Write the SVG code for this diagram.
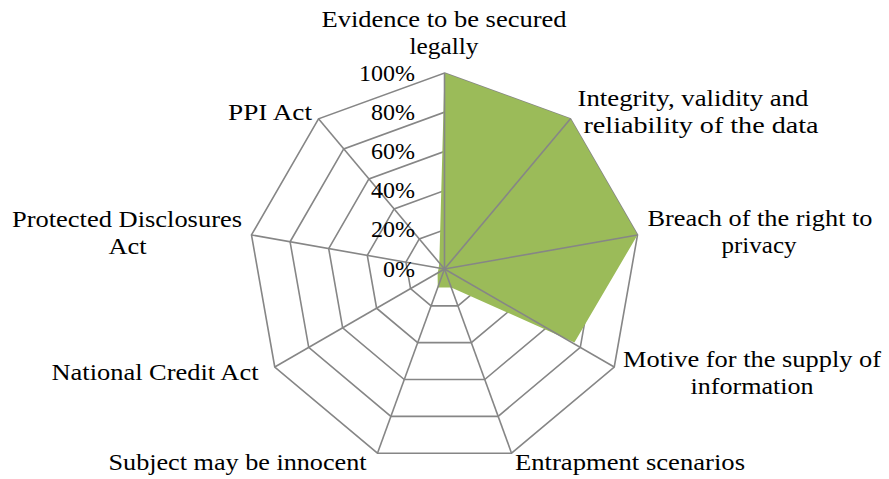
<svg xmlns="http://www.w3.org/2000/svg" width="889" height="479" viewBox="0 0 889 479">
<style>
.ring{fill:none;stroke:#868686;stroke-width:1.6;stroke-linejoin:miter}
.axis{stroke:#868686;stroke-width:1.6}
.cat{font-family:"Liberation Serif","Times New Roman",serif;font-size:24px;fill:#000;text-anchor:middle}
.pct{font-family:"Liberation Serif","Times New Roman",serif;font-size:24px;fill:#000;text-anchor:end}
</style>
<rect width="889" height="479" fill="#fff"/>
<g id="grid">
<polygon class="ring" points="444.5,229.8 469.7,238.97 483.1,262.19 478.45,288.6 457.91,305.84 431.09,305.84 410.55,288.6 405.9,262.19 419.3,238.97"/>
<polygon class="ring" points="444.5,190.6 494.89,208.94 521.71,255.39 512.4,308.2 471.31,342.67 417.69,342.67 376.6,308.2 367.29,255.39 394.11,208.94"/>
<polygon class="ring" points="444.5,151.4 520.09,178.91 560.31,248.58 546.34,327.8 484.72,379.51 404.28,379.51 342.66,327.8 328.69,248.58 368.91,178.91"/>
<polygon class="ring" points="444.5,112.2 545.29,148.88 598.92,241.77 580.29,347.4 498.13,416.34 390.87,416.34 308.71,347.4 290.08,241.77 343.71,148.88"/>
<polygon class="ring" points="444.5,73 570.49,118.86 637.52,234.96 614.24,367 511.54,453.18 377.46,453.18 274.76,367 251.48,234.96 318.51,118.86"/>
</g>
<g id="series">
<polygon fill="#9BBB59" points="444.5,73 570.49,118.86 637.52,234.96 574.4,342.5 451.2,287.4 437.8,287.4 437.6,272.9 438.7,268 439.3,262.9"/>
</g>
<g id="axes">
<line class="axis" x1="444.5" y1="269" x2="444.5" y2="73"/>
<line class="axis" x1="444.5" y1="269" x2="570.49" y2="118.86"/>
<line class="axis" x1="444.5" y1="269" x2="637.52" y2="234.96"/>
<line class="axis" x1="444.5" y1="269" x2="614.24" y2="367"/>
<line class="axis" x1="444.5" y1="269" x2="511.54" y2="453.18"/>
<line class="axis" x1="444.5" y1="269" x2="377.46" y2="453.18"/>
<line class="axis" x1="444.5" y1="269" x2="274.76" y2="367"/>
<line class="axis" x1="444.5" y1="269" x2="251.48" y2="234.96"/>
<line class="axis" x1="444.5" y1="269" x2="318.51" y2="118.86"/>
</g>
<g id="value-labels">
<text class="pct" x="415" y="80.5">100%</text>
<text class="pct" x="415" y="119.7">80%</text>
<text class="pct" x="415" y="158.9">60%</text>
<text class="pct" x="415" y="198.1">40%</text>
<text class="pct" x="415" y="237.3">20%</text>
<text class="pct" x="415" y="276.5">0%</text>
</g>
<g id="category-labels">
<text class="cat" x="444" y="27" textLength="245" lengthAdjust="spacingAndGlyphs">Evidence to be secured</text>
<text class="cat" x="444" y="54" textLength="69" lengthAdjust="spacingAndGlyphs">legally</text>
<text class="cat" x="693" y="106" textLength="231" lengthAdjust="spacingAndGlyphs">Integrity, validity and</text>
<text class="cat" x="701" y="133" textLength="235" lengthAdjust="spacingAndGlyphs">reliability of the data</text>
<text class="cat" x="760" y="226" textLength="225" lengthAdjust="spacingAndGlyphs">Breach of the right to</text>
<text class="cat" x="759" y="253" textLength="75" lengthAdjust="spacingAndGlyphs">privacy</text>
<text class="cat" x="752" y="367" textLength="258" lengthAdjust="spacingAndGlyphs">Motive for the supply of</text>
<text class="cat" x="752" y="394" textLength="123" lengthAdjust="spacingAndGlyphs">information</text>
<text class="cat" x="630" y="470" textLength="230" lengthAdjust="spacingAndGlyphs">Entrapment scenarios</text>
<text class="cat" x="237.5" y="470" textLength="258" lengthAdjust="spacingAndGlyphs">Subject may be innocent</text>
<text class="cat" x="155" y="380" textLength="207" lengthAdjust="spacingAndGlyphs">National Credit Act</text>
<text class="cat" x="127" y="227" textLength="230" lengthAdjust="spacingAndGlyphs">Protected Disclosures</text>
<text class="cat" x="127.5" y="254" textLength="38" lengthAdjust="spacingAndGlyphs">Act</text>
<text class="cat" x="270" y="120" textLength="84" lengthAdjust="spacingAndGlyphs">PPI Act</text>
</g>
</svg>
